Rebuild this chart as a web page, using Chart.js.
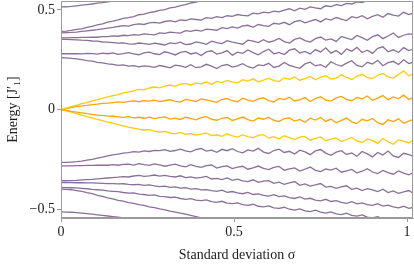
<!DOCTYPE html>
<html>
<head>
<meta charset="utf-8">
<script src="https://cdn.jsdelivr.net/npm/chart.js@4/dist/chart.umd.min.js"></script>
<style>html,body{margin:0;padding:0;background:#fff;}canvas{display:block;}</style>
</head>
<body>
<canvas id="c" width="414" height="264"></canvas>
<script>
const sigma = [0,0.015,0.03,0.045,0.06,0.075,0.09,0.105,0.12,0.135,
0.15,0.165,0.18,0.195,0.21,0.225,0.24,0.255,0.27,0.285,
0.30,0.315,0.33,0.345,0.36,0.375,0.39,0.405,0.42,0.435,
0.45,0.465,0.48,0.495,0.51,0.525,0.54,0.555,0.57,0.585,
0.60,0.615,0.63,0.645,0.66,0.675,0.69,0.705,0.72,0.735,
0.75,0.765,0.78,0.795,0.81,0.825,0.84,0.855,0.87,0.885,
0.90,0.915,0.93,0.945,0.96,0.975,0.99,1.005,1.02];

const xTickValues = [0, 0.5, 1];
const xTickLabels = ['0', '0.5', '1'];
const yTickValues = [-0.5, 0, 0.5];
const yTickLabels = ['\u22120.5', '0', '0.5'];

// upper purple levels
const levelA = [0.515,0.516,0.518,0.521,0.524,0.527,0.530,0.534,0.537,0.541,0.545,0.549,0.553,0.557,0.561];
const levelB = [0.392,0.394,0.397,0.402,0.405,0.412,0.417,0.425,0.430,0.439,
0.444,0.450,0.458,0.462,0.467,0.476,0.479,0.487,0.491,0.498,
0.502,0.511,0.514,0.522,0.527,0.535,0.539,0.548,0.555,0.562];
const levelC = [0.385,0.386,0.387,0.389,0.392,0.395,0.398,0.401,0.405,0.409,
0.412,0.417,0.421,0.419,0.426,0.430,0.427,0.435,0.438,0.434,
0.442,0.446,0.440,0.450,0.447,0.455,0.452,0.449,0.461,0.458,
0.466,0.462,0.471,0.468,0.477,0.473,0.470,0.484,0.480,0.489,
0.485,0.494,0.490,0.499,0.506,0.496,0.509,0.503,0.515,0.510,
0.506,0.521,0.517,0.527,0.522,0.533,0.530,0.541,0.537,0.548,
0.545,0.556,0.565];
const levelD = [0.360,0.360,0.361,0.361,0.362,0.362,0.364,0.363,0.366,0.366,
0.370,0.368,0.373,0.371,0.376,0.374,0.380,0.377,0.375,0.385,
0.382,0.389,0.386,0.384,0.396,0.392,0.399,0.394,0.404,0.401,
0.398,0.411,0.406,0.415,0.409,0.420,0.423,0.413,0.427,0.421,
0.418,0.433,0.429,0.438,0.426,0.441,0.447,0.435,0.444,0.452,
0.440,0.456,0.449,0.462,0.454,0.447,0.466,0.460,0.471,0.456,
0.468,0.476,0.463,0.482,0.474,0.469,0.488,0.477,0.485];
const levelE = [0.352,0.352,0.351,0.350,0.348,0.347,0.344,0.343,0.339,0.338,
0.336,0.333,0.335,0.330,0.328,0.334,0.331,0.327,0.333,0.329,
0.324,0.335,0.331,0.338,0.326,0.329,0.340,0.335,0.327,0.343,
0.336,0.331,0.346,0.339,0.333,0.328,0.348,0.343,0.336,0.351,
0.338,0.345,0.357,0.341,0.334,0.352,0.360,0.346,0.339,0.356,
0.364,0.349,0.355,0.342,0.367,0.358,0.351,0.372,0.361,0.348,
0.366,0.375,0.356,0.369,0.384,0.362,0.373,0.380,0.377];
const levelF = [0.280,0.280,0.281,0.280,0.279,0.282,0.281,0.278,0.283,0.280,
0.284,0.277,0.281,0.286,0.279,0.275,0.284,0.288,0.280,0.276,
0.290,0.283,0.274,0.287,0.292,0.279,0.285,0.271,0.289,0.295,
0.278,0.284,0.296,0.273,0.288,0.282,0.299,0.286,0.275,0.291,
0.303,0.280,0.287,0.276,0.298,0.305,0.284,0.292,0.279,0.301,
0.289,0.310,0.283,0.296,0.277,0.304,0.293,0.312,0.286,0.298,
0.282,0.307,0.315,0.290,0.300,0.286,0.311,0.296,0.305];
const levelG = [0.260,0.259,0.257,0.254,0.251,0.246,0.243,0.237,0.234,0.229,
0.227,0.222,0.224,0.218,0.220,0.214,0.219,0.217,0.212,0.221,
0.216,0.209,0.223,0.219,0.212,0.225,0.210,0.214,0.227,0.218,
0.206,0.221,0.226,0.213,0.219,0.230,0.215,0.208,0.224,0.220,
0.232,0.211,0.218,0.236,0.222,0.214,0.207,0.229,0.238,0.219,
0.225,0.212,0.240,0.226,0.218,0.233,0.245,0.221,0.214,0.237,
0.228,0.247,0.220,0.235,0.242,0.226,0.250,0.231,0.239];

// central yellow / orange levels
const yellowUp = [0.000,0.007,0.014,0.021,0.029,0.035,0.043,0.049,0.057,0.063,
0.070,0.075,0.083,0.087,0.094,0.101,0.099,0.108,0.113,0.109,
0.118,0.123,0.116,0.127,0.131,0.122,0.134,0.129,0.138,0.126,
0.141,0.135,0.146,0.139,0.133,0.150,0.143,0.154,0.138,0.148,
0.157,0.145,0.140,0.159,0.152,0.163,0.147,0.155,0.166,0.149,
0.161,0.170,0.153,0.158,0.174,0.162,0.151,0.168,0.177,0.160,
0.156,0.172,0.181,0.164,0.158,0.176,0.194,0.169,0.180];
const orangeUp = [0.000,0.005,0.010,0.014,0.018,0.021,0.025,0.027,0.031,0.032,
0.035,0.038,0.036,0.041,0.043,0.039,0.045,0.042,0.047,0.040,
0.044,0.049,0.041,0.037,0.051,0.046,0.040,0.053,0.048,0.042,
0.036,0.050,0.055,0.044,0.039,0.057,0.047,0.041,0.053,0.059,
0.045,0.038,0.056,0.050,0.062,0.043,0.048,0.060,0.040,0.055,
0.064,0.047,0.042,0.058,0.066,0.051,0.044,0.061,0.053,0.068,
0.046,0.057,0.070,0.049,0.063,0.054,0.072,0.050,0.061];
const orangeDown = [0.000,-0.004,-0.009,-0.013,-0.017,-0.021,-0.024,-0.028,-0.030,-0.033,
-0.034,-0.037,-0.040,-0.036,-0.042,-0.039,-0.044,-0.038,-0.046,-0.041,
-0.037,-0.048,-0.043,-0.050,-0.039,-0.045,-0.052,-0.041,-0.036,-0.049,
-0.054,-0.044,-0.040,-0.056,-0.047,-0.038,-0.051,-0.058,-0.043,-0.049,
-0.039,-0.055,-0.061,-0.046,-0.042,-0.058,-0.050,-0.064,-0.044,-0.053,
-0.040,-0.060,-0.048,-0.067,-0.055,-0.043,-0.062,-0.071,-0.049,-0.057,
-0.045,-0.066,-0.075,-0.052,-0.061,-0.047,-0.069,-0.058,-0.050];
const yellowDown = [0.000,-0.007,-0.013,-0.021,-0.028,-0.036,-0.042,-0.050,-0.056,-0.063,
-0.069,-0.076,-0.082,-0.088,-0.093,-0.099,-0.103,-0.101,-0.109,-0.113,
-0.110,-0.118,-0.122,-0.115,-0.125,-0.120,-0.129,-0.124,-0.118,-0.131,
-0.127,-0.135,-0.122,-0.133,-0.139,-0.128,-0.136,-0.142,-0.130,-0.126,
-0.144,-0.137,-0.148,-0.132,-0.141,-0.151,-0.139,-0.135,-0.154,-0.145,
-0.138,-0.157,-0.149,-0.143,-0.161,-0.152,-0.140,-0.158,-0.166,-0.148,
-0.155,-0.170,-0.146,-0.162,-0.175,-0.153,-0.159,-0.168,-0.150];

// lower purple levels
const levela = [-0.266,-0.266,-0.264,-0.262,-0.259,-0.254,-0.250,-0.244,-0.239,-0.233,
-0.228,-0.224,-0.219,-0.217,-0.212,-0.214,-0.208,-0.211,-0.205,-0.207,
-0.202,-0.210,-0.206,-0.199,-0.208,-0.213,-0.201,-0.196,-0.209,-0.204,
-0.215,-0.200,-0.207,-0.197,-0.211,-0.218,-0.203,-0.209,-0.195,-0.214,
-0.221,-0.206,-0.199,-0.216,-0.210,-0.224,-0.204,-0.213,-0.227,-0.208,
-0.201,-0.219,-0.230,-0.214,-0.207,-0.226,-0.218,-0.235,-0.211,-0.223,
-0.238,-0.216,-0.229,-0.209,-0.233,-0.241,-0.220,-0.227,-0.236];
const levelb = [-0.283,-0.283,-0.283,-0.282,-0.282,-0.281,-0.281,-0.280,-0.279,-0.280,
-0.277,-0.280,-0.276,-0.274,-0.279,-0.272,-0.277,-0.281,-0.273,-0.278,
-0.285,-0.279,-0.274,-0.283,-0.288,-0.277,-0.286,-0.291,-0.282,-0.279,
-0.294,-0.287,-0.283,-0.297,-0.290,-0.285,-0.300,-0.293,-0.284,-0.296,
-0.302,-0.291,-0.286,-0.305,-0.298,-0.293,-0.309,-0.300,-0.289,-0.306,
-0.312,-0.299,-0.304,-0.295,-0.315,-0.308,-0.301,-0.318,-0.310,-0.297,
-0.314,-0.322,-0.306,-0.317,-0.325,-0.309,-0.320,-0.328,-0.316];
const levelc = [-0.358,-0.358,-0.357,-0.356,-0.354,-0.352,-0.351,-0.348,-0.346,-0.344,
-0.342,-0.340,-0.337,-0.339,-0.334,-0.331,-0.336,-0.333,-0.329,-0.335,
-0.331,-0.336,-0.339,-0.333,-0.342,-0.338,-0.345,-0.341,-0.336,-0.349,
-0.346,-0.352,-0.344,-0.356,-0.350,-0.359,-0.362,-0.353,-0.366,-0.360,
-0.357,-0.371,-0.365,-0.376,-0.368,-0.362,-0.381,-0.374,-0.385,-0.379,
-0.372,-0.390,-0.386,-0.396,-0.389,-0.383,-0.401,-0.395,-0.407,-0.398,
-0.404,-0.412,-0.400,-0.417,-0.409,-0.421,-0.414,-0.407,-0.424];
const leveld = [-0.367,-0.367,-0.367,-0.368,-0.368,-0.369,-0.369,-0.370,-0.371,-0.372,
-0.372,-0.374,-0.373,-0.376,-0.378,-0.376,-0.381,-0.379,-0.384,-0.387,
-0.385,-0.391,-0.389,-0.395,-0.393,-0.400,-0.397,-0.404,-0.402,-0.408,
-0.411,-0.405,-0.416,-0.412,-0.419,-0.423,-0.416,-0.427,-0.424,-0.431,
-0.435,-0.428,-0.438,-0.434,-0.443,-0.447,-0.439,-0.450,-0.446,-0.455,
-0.459,-0.451,-0.462,-0.458,-0.467,-0.471,-0.463,-0.474,-0.469,-0.478,
-0.482,-0.473,-0.485,-0.480,-0.489,-0.494,-0.486,-0.497,-0.491];
const levele = [-0.392,-0.392,-0.393,-0.394,-0.396,-0.398,-0.401,-0.403,-0.405,-0.409,
-0.411,-0.413,-0.417,-0.420,-0.419,-0.425,-0.427,-0.431,-0.429,-0.436,
-0.438,-0.442,-0.440,-0.447,-0.451,-0.448,-0.455,-0.458,-0.454,-0.463,
-0.466,-0.461,-0.470,-0.473,-0.469,-0.478,-0.482,-0.476,-0.486,-0.489,
-0.484,-0.494,-0.497,-0.491,-0.501,-0.505,-0.499,-0.509,-0.513,-0.506,
-0.516,-0.520,-0.514,-0.524,-0.528,-0.521,-0.532,-0.536,-0.529,-0.541,
-0.545,-0.538,-0.549,-0.553,-0.560];
const levelf = [-0.400,-0.401,-0.403,-0.407,-0.411,-0.418,-0.423,-0.431,-0.436,-0.444,
-0.449,-0.457,-0.460,-0.468,-0.471,-0.478,-0.482,-0.489,-0.493,-0.499,
-0.504,-0.510,-0.515,-0.521,-0.526,-0.532,-0.538,-0.544,-0.550,-0.557];
const levelg = [-0.514,-0.515,-0.516,-0.518,-0.520,-0.523,-0.526,-0.529,-0.532,-0.535,-0.538,-0.541,-0.544,-0.547,-0.551,-0.555];

const purple = '#8b6f98';
const yellow = '#ffcc00';
const orange = '#ffa300';

const seriesList = [
  [levelA, purple],[levelB, purple],[levelC, purple],[levelD, purple],[levelE, purple],[levelF, purple],[levelG, purple],
  [levela, purple],[levelb, purple],[levelc, purple],[leveld, purple],[levele, purple],[levelf, purple],[levelg, purple],
  [yellowUp, yellow],[orangeUp, orange],[orangeDown, orange],[yellowDown, yellow]
];

const datasets = seriesList.map(([vals, col]) => ({
  data: vals.map((v, i) => ({x: sigma[i], y: v})),
  borderColor: col,
  borderWidth: 1.3,
  pointRadius: 0,
  tension: 0,
  fill: false
}));

const frame = {
  id: 'frame',
  afterDatasetsDraw(chart) {
    const {ctx, chartArea: a} = chart;
    ctx.save();
    ctx.strokeStyle = '#9a9a9a';
    ctx.lineWidth = 1;
    ctx.strokeRect(Math.round(a.left) + 0.5, Math.round(a.top) + 0.5, Math.round(a.right - a.left) - 1, Math.round(a.bottom - a.top) - 1);
    ctx.restore();
  }
};

const fontFam = '"Liberation Serif", "DejaVu Serif", serif';

new Chart(document.getElementById('c'), {
  type: 'line',
  data: { datasets },
  plugins: [frame],
  options: {
    responsive: false,
    animation: false,
    devicePixelRatio: 1,
    layout: { padding: { top: 1, right: 1, left: 0, bottom: 0 } },
    plugins: { legend: { display: false }, tooltip: { enabled: false } },
    scales: {
      x: {
        type: 'linear',
        min: 0,
        max: 1.017,
        afterBuildTicks: s => { s.ticks = xTickValues.map(v => ({ value: v })); },
        afterFit: s => { s.height = 46; s.paddingLeft = 0; s.paddingRight = 0; },
        ticks: {
          callback: (v, i) => xTickLabels[i],
          font: { family: fontFam, size: 14 },
          color: '#222',
          padding: 2,
          maxRotation: 0
        },
        grid: { display: true, drawOnChartArea: false, drawTicks: true, tickLength: 4, color: '#9a9a9a' },
        border: { display: true, color: '#9a9a9a' },
        title: { display: true, text: 'Standard deviation \u03c3', font: { family: fontFam, size: 14 }, color: '#222', padding: { top: 0, bottom: 0 } }
      },
      y: {
        type: 'linear',
        min: -0.545,
        max: 0.545,
        afterBuildTicks: s => { s.ticks = yTickValues.map(v => ({ value: v })); },
        afterFit: s => { s.width = 61; s.paddingTop = 0; s.paddingBottom = 0; },
        ticks: {
          callback: (v, i) => yTickLabels[i],
          font: { family: fontFam, size: 14 },
          color: '#222',
          padding: 2
        },
        grid: { display: true, drawOnChartArea: false, drawTicks: true, tickLength: 4, color: '#9a9a9a' },
        border: { display: true, color: '#9a9a9a' },
        title: { display: true, text: 'Energy [J\u2032\u2081]', font: { family: fontFam, size: 14 }, color: '#222', padding: { top: 5, bottom: 0 } }
      }
    }
  }
});
</script>
</body>
</html>
